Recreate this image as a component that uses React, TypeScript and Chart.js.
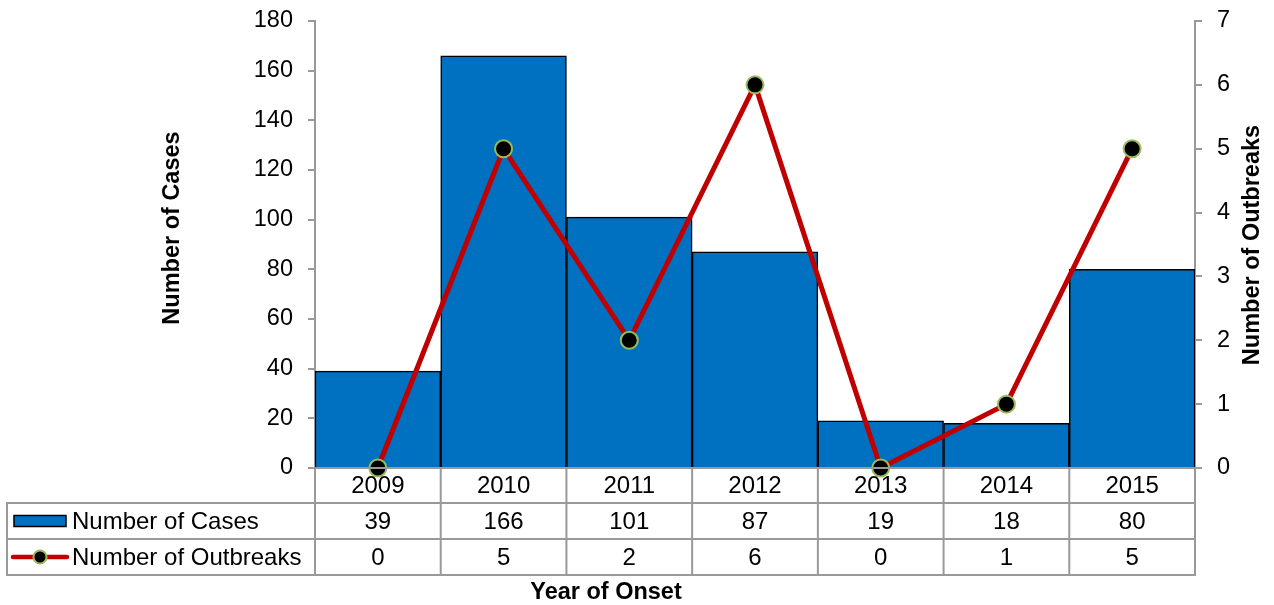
import React, { useEffect, useRef } from "react";
import { Chart, registerables } from "chart.js";

Chart.register(...registerables);

const years = ["2009", "2010", "2011", "2012", "2013", "2014", "2015"];
const cases = [39, 166, 101, 87, 19, 18, 80];
const outbreaks = [0, 5, 2, 6, 0, 1, 5];
const casesLabel = "Number of Cases";
const outbreaksLabel = "Number of Outbreaks";
const xTitle = "Year of Onset";

const FONT = "'Liberation Sans', Arial, sans-serif";
const BLUE = "#0070C0";
const RED = "#C00000";
const GRID = "#999999";

const tablePlugin = {
  id: "tablePlugin",
  afterDraw(chart: any) {
    const { ctx, chartArea } = chart;
    const { left, right, bottom } = chartArea;
    const n = years.length;
    const cw = (right - left) / n;
    const r0 = bottom;
    const r1 = bottom + 35;
    const r2 = bottom + 71;
    const r3 = bottom + 107;
    const tLeft = 7;
    ctx.save();
    ctx.strokeStyle = GRID;
    ctx.lineWidth = 2;
    ctx.beginPath();
    ctx.moveTo(left - 7, r0);
    ctx.lineTo(right + 7, r0);
    ctx.stroke();
    [r1, r2, r3].forEach((y) => {
      ctx.beginPath();
      ctx.moveTo(tLeft - 1, y);
      ctx.lineTo(right + 1, y);
      ctx.stroke();
    });
    ctx.beginPath();
    ctx.moveTo(tLeft, r1);
    ctx.lineTo(tLeft, r3);
    ctx.stroke();
    for (let i = 0; i <= n; i++) {
      const x = left + i * cw;
      ctx.beginPath();
      ctx.moveTo(x, r0);
      ctx.lineTo(x, r3);
      ctx.stroke();
    }
    ctx.fillStyle = "#000";
    ctx.font = `24px ${FONT}`;
    ctx.textAlign = "center";
    ctx.textBaseline = "middle";
    for (let i = 0; i < n; i++) {
      const cx = left + (i + 0.5) * cw;
      ctx.fillText(years[i], cx, (r0 + r1) / 2 + 1);
      ctx.fillText(String(cases[i]), cx, (r1 + r2) / 2 + 1);
      ctx.fillText(String(outbreaks[i]), cx, (r2 + r3) / 2 + 1);
    }
    ctx.textAlign = "left";
    ctx.fillText(casesLabel, 72, (r1 + r2) / 2 + 1);
    ctx.fillText(outbreaksLabel, 72, (r2 + r3) / 2 + 1);
    const ky = (r1 + r2) / 2;
    ctx.fillStyle = BLUE;
    ctx.fillRect(14, ky - 5.5, 52, 11);
    ctx.strokeStyle = "#000";
    ctx.lineWidth = 1.5;
    ctx.strokeRect(14, ky - 5.5, 52, 11);
    const ly = (r2 + r3) / 2;
    ctx.strokeStyle = RED;
    ctx.lineWidth = 4.5;
    ctx.lineCap = "round";
    ctx.beginPath();
    ctx.moveTo(13, ly);
    ctx.lineTo(67, ly);
    ctx.stroke();
    ctx.beginPath();
    ctx.arc(40, ly, 6.5, 0, Math.PI * 2);
    ctx.fillStyle = "#000";
    ctx.fill();
    ctx.strokeStyle = "#9BBB59";
    ctx.lineWidth = 2;
    ctx.stroke();
    ctx.fillStyle = "#000";
    ctx.font = `bold 23.5px ${FONT}`;
    ctx.textAlign = "center";
    ctx.textBaseline = "middle";
    ctx.save();
    ctx.translate(173, 228);
    ctx.rotate(-Math.PI / 2);
    ctx.fillText(casesLabel, 0, 0);
    ctx.restore();
    ctx.save();
    ctx.translate(1253, 245);
    ctx.rotate(-Math.PI / 2);
    ctx.fillText(outbreaksLabel, 0, 0);
    ctx.restore();
    ctx.fillText(xTitle, 606, 593);
    ctx.restore();
  },
};

const noPad = (w: number) => (s: any) => {
  s.width = w;
  s.paddingTop = 0;
  s.paddingBottom = 0;
};

export default function App() {
  const ref = useRef<HTMLCanvasElement>(null);
  useEffect(() => {
    if (!ref.current) return;
    const chart = new Chart(ref.current, {
      type: "bar",
      data: {
        labels: years,
        datasets: [
          {
            type: "line",
            label: outbreaksLabel,
            data: outbreaks,
            yAxisID: "y1",
            borderColor: RED,
            borderWidth: 5,
            pointRadius: 8.5,
            pointBackgroundColor: "#000",
            pointBorderColor: "#9BBB59",
            pointBorderWidth: 2,
            tension: 0,
            clip: false,
            order: 0,
          } as any,
          {
            type: "bar",
            label: casesLabel,
            data: cases,
            yAxisID: "y",
            backgroundColor: BLUE,
            borderColor: "#000",
            borderWidth: 1.5,
            categoryPercentage: 1,
            barPercentage: 1,
            order: 1,
          } as any,
        ],
      },
      plugins: [tablePlugin],
      options: {
        animation: false,
        responsive: true,
        maintainAspectRatio: false,
        layout: { padding: { top: 21, bottom: 137, left: 0, right: 0 } },
        plugins: { legend: { display: false }, tooltip: { enabled: false } },
        scales: {
          x: { display: false, offset: true },
          y: {
            position: "left",
            min: 0,
            max: 180,
            ticks: { stepSize: 20, color: "#000", padding: 15, font: { family: FONT, size: 23.5 } },
            grid: { drawOnChartArea: false, tickLength: 7, color: GRID, lineWidth: 2 },
            border: { color: GRID, width: 2 },
            afterFit: noPad(315),
          },
          y1: {
            position: "right",
            min: 0,
            max: 7,
            ticks: { stepSize: 1, color: "#000", padding: 15, font: { family: FONT, size: 23.5 } },
            grid: { drawOnChartArea: false, tickLength: 7, color: GRID, lineWidth: 2 },
            border: { color: GRID, width: 2 },
            afterFit: noPad(79),
          },
        },
      },
    });
    return () => chart.destroy();
  }, []);
  return (
    <div style={{ position: "absolute", left: 0, top: 0, width: 1274, height: 605 }}>
      <canvas ref={ref} />
    </div>
  );
}
